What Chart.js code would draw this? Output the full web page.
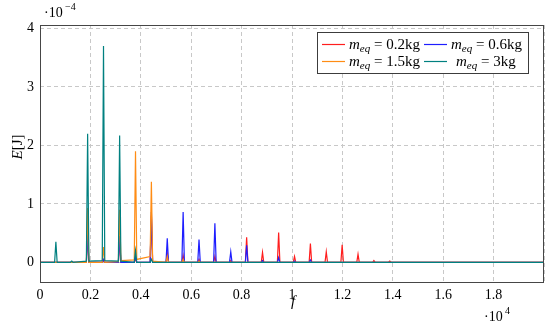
<!DOCTYPE html>
<html>
<head>
<meta charset="utf-8">
<script src="https://cdn.jsdelivr.net/npm/chart.js@4"></script>
<style>
  html, body { margin: 0; padding: 0; background: #fff; }
  canvas { display: block; }
</style>
</head>
<body>
<canvas id="energyChart" width="550" height="326"></canvas>
<script>
// frequency grid (x 10^4), three points around each resonance
const freq = [
    0,
    0.058, 0.063, 0.068,
    0.121, 0.126, 0.131,
    0.184, 0.189, 0.194,
    0.247, 0.252, 0.257,
    0.311, 0.316, 0.321,
    0.374, 0.379, 0.384,
    0.437, 0.442, 0.447,
    0.500, 0.505, 0.510,
    0.563, 0.568, 0.573,
    0.626, 0.631, 0.636,
    0.689, 0.694, 0.699,
    0.752, 0.757, 0.762,
    0.815, 0.820, 0.825,
    0.878, 0.883, 0.888,
    0.942, 0.947, 0.952,
    1.005, 1.010, 1.015,
    1.068, 1.073, 1.078,
    1.131, 1.136, 1.141,
    1.194, 1.199, 1.204,
    1.257, 1.262, 1.267,
    1.320, 1.325, 1.330,
    1.383, 1.388, 1.393,
    2.0
];

// energy (x 10^-4 J) for each mass
const energy02 = [
    0,
    0, 0, 0,   0, 0, 0,   0, 0.45, 0,   0, 0.03, 0,   0, 0.37, 0,
    0, 0.05, 0,   0, 0.8, 0,   0, 0.15, 0,   0, 0.12, 0,   0, 0.05, 0,
    0, 0.1, 0,   0, 0.03, 0,   0, 0.43, 0,   0, 0.17, 0,   0, 0.51, 0,
    0, 0.1, 0,   0, 0.32, 0,   0, 0.18, 0,   0, 0.3, 0,   0, 0.14, 0,
    0, 0.03, 0,   0, 0.02, 0,
    0
];
const energy06 = [
    0,
    0, 0, 0,   0, 0, 0,   0, 0.5, 0,   0, 0.05, 0,   0, 0.45, 0,
    0, 0.1, 0,   0, 0.86, 0,   0, 0.41, 0,   0, 0.86, 0,   0, 0.39, 0,
    0, 0.67, 0,   0, 0.18, 0,   0, 0.29, 0,   0, 0.03, 0,   0, 0.08, 0,
    0, 0.02, 0,   0, 0.04, 0,   0, 0, 0,   0, 0, 0,   0, 0, 0,
    0, 0, 0,   0, 0, 0,
    0
];
const energy15 = [
    0,
    0, 0, 0,   0, 0, 0,   0, 0.93, 0,   0, 0.26, 0,   0.01, 0.9, 0.03,
    0.04, 1.9, 0.05,   0.1, 1.38, 0.02,   0, 0.1, 0,   0, 0.05, 0,   0, 0.02, 0,
    0, 0, 0,   0, 0, 0,   0, 0, 0,   0, 0, 0,   0, 0, 0,
    0, 0, 0,   0, 0, 0,   0, 0, 0,   0, 0, 0,   0, 0, 0,
    0, 0, 0,   0, 0, 0,
    0
];
const energy3 = [
    0,
    0, 0.35, 0,   0, 0.02, 0,   0.02, 2.2, 0.02,   0.03, 3.7, 0.03,   0.02, 2.17, 0.02,
    0, 0.2, 0,   0, 0.05, 0,   0, 0, 0,   0, 0, 0,   0, 0, 0,
    0, 0, 0,   0, 0, 0,   0, 0, 0,   0, 0, 0,   0, 0, 0,
    0, 0, 0,   0, 0, 0,   0, 0, 0,   0, 0, 0,   0, 0, 0,
    0, 0, 0,   0, 0, 0,
    0
];

const xTicks = [0, 0.2, 0.4, 0.6, 0.8, 1, 1.2, 1.4, 1.6, 1.8, 2.0];
const yTicks = [0, 1, 2, 3, 4];

const seriesNames = ['0.2kg', '0.6kg', '1.5kg', '3kg'];
const seriesColors = ['rgb(255,30,30)', 'rgb(30,30,255)', 'rgb(255,140,20)', 'rgb(0,128,128)'];
const seriesValues = [energy02, energy06, energy15, energy3];

const serif = '"Liberation Serif", "DejaVu Serif", serif';

function toPoints(vals) {
    return freq.map((f, i) => ({ x: f, y: vals[i] }));
}

// draw "m_eq = ..." with italic m and subscript
function drawMeq(ctx, x, y, value) {
    ctx.textBaseline = 'alphabetic';
    ctx.textAlign = 'left';
    ctx.fillStyle = '#000';
    ctx.font = 'italic 15px ' + serif;
    ctx.fillText('m', x, y);
    x += ctx.measureText('m').width;
    ctx.font = 'italic 11px ' + serif;
    ctx.fillText('eq', x, y + 3);
    x += ctx.measureText('eq').width;
    ctx.font = '15px ' + serif;
    ctx.fillText(' = ' + value, x, y);
}

const decorations = {
    id: 'decorations',
    afterDraw(chart) {
        const ctx = chart.ctx;
        const a = chart.chartArea;
        ctx.save();

        // frame
        ctx.strokeStyle = 'rgb(70,70,70)';
        ctx.lineWidth = 1;
        ctx.strokeRect(a.left + 0.5, a.top + 0.5, a.right - a.left - 1, a.bottom - a.top - 1);

        // axis titles
        ctx.fillStyle = '#000';
        ctx.font = 'italic 15px ' + serif;
        ctx.textAlign = 'center';
        ctx.textBaseline = 'middle';
        ctx.fillText('f', (a.left + a.right) / 2 + 1, 302);

        ctx.save();
        ctx.translate(18, 147);
        ctx.rotate(-Math.PI / 2);
        ctx.font = 'italic 15px ' + serif;
        let w1 = ctx.measureText('E').width;
        ctx.font = '15px ' + serif;
        let w2 = ctx.measureText('[J]').width;
        ctx.textAlign = 'left';
        ctx.font = 'italic 15px ' + serif;
        ctx.fillText('E', -(w1 + w2) / 2, 0);
        ctx.font = '15px ' + serif;
        ctx.fillText('[J]', -(w1 + w2) / 2 + w1, 0);
        ctx.restore();

        // scale factors
        ctx.textAlign = 'left';
        ctx.textBaseline = 'alphabetic';
        ctx.font = '14px ' + serif;
        ctx.fillText('\u00b710', 44, 17);
        ctx.font = '10px ' + serif;
        ctx.fillText('\u22124', 65, 10);
        ctx.font = '14px ' + serif;
        ctx.fillText('\u00b710', 484, 321);
        ctx.font = '10px ' + serif;
        ctx.fillText('4', 505, 314);

        // legend box
        const bx = 317, by = 32, bw = 211, bh = 41;
        ctx.fillStyle = '#fff';
        ctx.fillRect(bx, by, bw, bh);
        ctx.strokeStyle = 'rgb(60,60,60)';
        ctx.strokeRect(bx + 0.5, by + 0.5, bw, bh);

        const cells = [
            { lx: 322, tx: 349, y: 44 },
            { lx: 424, tx: 451, y: 44 },
            { lx: 322, tx: 349, y: 61 },
            { lx: 424, tx: 456, y: 61 }
        ];
        cells.forEach((c, i) => {
            ctx.strokeStyle = seriesColors[i];
            ctx.lineWidth = 1.2;
            ctx.beginPath();
            ctx.moveTo(c.lx, c.y + 0.5);
            ctx.lineTo(c.lx + 23, c.y + 0.5);
            ctx.stroke();
            drawMeq(ctx, c.tx, c.y + 5, seriesNames[i]);
        });

        ctx.restore();
    }
};

new Chart(document.getElementById('energyChart'), {
    type: 'line',
    data: {
        datasets: seriesValues.map((vals, i) => ({
            label: seriesNames[i],
            data: toPoints(vals),
            borderColor: seriesColors[i],
            borderWidth: 1.2,
            pointRadius: 0,
            fill: false,
            tension: 0,
            order: 3 - i
        }))
    },
    options: {
        responsive: false,
        animation: false,
        devicePixelRatio: 1,
        layout: { padding: { top: 25, right: 6, left: 0, bottom: 0 } },
        plugins: {
            legend: { display: false },
            tooltip: { enabled: false }
        },
        scales: {
            x: {
                type: 'linear',
                min: 0,
                max: 2.0,
                afterBuildTicks: (s) => { s.ticks = xTicks.map(v => ({ value: v })); },
                afterFit: (s) => { s.height = 43; },
                border: { display: false, dash: [4, 3] },
                grid: {
                    color: 'rgb(200,200,200)',
                    drawTicks: false
                },
                ticks: {
                    padding: 4,
                    color: '#000',
                    font: { family: serif, size: 14 },
                    callback: (v) => (v > 1.9 ? '' : String(v))
                }
            },
            y: {
                type: 'linear',
                min: -0.354,
                max: 4.06,
                afterBuildTicks: (s) => { s.ticks = yTicks.map(v => ({ value: v })); },
                afterFit: (s) => { s.width = 40; },
                border: { display: false, dash: [4, 3] },
                grid: {
                    color: 'rgb(200,200,200)',
                    drawTicks: false
                },
                ticks: {
                    padding: 6,
                    color: '#000',
                    font: { family: serif, size: 14 },
                    callback: (v) => String(v)
                }
            }
        }
    },
    plugins: [decorations]
});
</script>
</body>
</html>
